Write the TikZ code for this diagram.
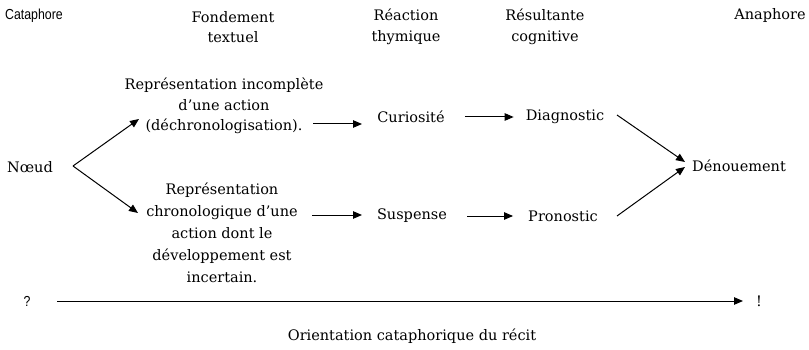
\documentclass[tikz,border=0pt]{standalone}
\usepackage{fontspec}
\setmainfont{DejaVu Serif}
\newfontfamily\sansf{Liberation Sans}[FakeStretch=0.85]
\usetikzlibrary{arrows.meta}
\begin{document}
\begin{tikzpicture}[x=1pt,y=-1pt,
  txt/.style={inner sep=0pt,align=center,font=\fontsize{14.5}{20.5}\selectfont},
  txtb/.style={inner sep=0pt,align=center,font=\fontsize{14.5}{22}\selectfont},
  arr/.style={-{Triangle[length=9pt,width=7.5pt]},line width=1pt}]
\useasboundingbox (0,0) rectangle (809,350);
% headers
\node[inner sep=0pt,anchor=west,font=\sansf\fontsize{14.5}{16}\selectfont] (cat) at (5,16) {Cataphore};
\node[txt] (fond) at (233,27) {Fondement\\textuel};
\node[txt] (reac) at (406,27) {Réaction\\thymique};
\node[txt] (res) at (545,27) {Résultante\\cognitive};
\node[txt] (ana) at (770,16) {Anaphore};
% body
\node[txt,anchor=west] (noeud) at (7,167) {Nœud};
\node[txt] (inc) at (224,106) {Représentation incomplète\\d’une action\\(déchronologisation).};
\node[txtb] (chr) at (222,233) {Représentation\\chronologique d’une\\action dont le\\développement est\\incertain.};
\node[txt] (cur) at (411,117) {Curiosité};
\node[txt] (diag) at (565,117) {Diagnostic};
\node[txt] (sus) at (412,216) {Suspense};
\node[txt] (pron) at (563,216) {Pronostic};
\node[txt,anchor=west] (den) at (692,166) {Dénouement};
% bottom
\node[inner sep=0pt,font=\sansf\fontsize{14.5}{16}\selectfont] (q) at (27,301) {?};
\node[txt] (ex) at (759,301) {!};
\node[txt] (ori) at (412,336) {Orientation cataphorique du récit};
% connector ends
\coordinate (v) at (73,166);
\coordinate (tipup) at (139,119);
\coordinate (tipdn) at (138,213);
\coordinate (a1) at (313,124);
\coordinate (a1e) at (362,124);
\coordinate (a3) at (312,215);
\coordinate (a3e) at (362,215);
\coordinate (d1) at (617,115);
\coordinate (d2) at (617,216);
\coordinate (dt1) at (685,162);
\coordinate (dt2) at (685,167);
% connectors
\draw[arr] (v) -- (tipup);
\draw[arr] (v) -- (tipdn);
\draw[arr] (a1) -- (a1e);
\draw[arr] (a3) -- (a3e);
\draw[arr,shorten <=20pt,shorten >=12pt] (cur.east) -- (diag.west);
\draw[arr,shorten <=20pt,shorten >=15pt] (sus.east) -- (pron.west);
\draw[arr] (d1) -- (dt1);
\draw[arr] (d2) -- (dt2);
\draw[arr] ([xshift=30pt]q.center) -- ([xshift=-16pt]ex.center);
\end{tikzpicture}
\end{document}
